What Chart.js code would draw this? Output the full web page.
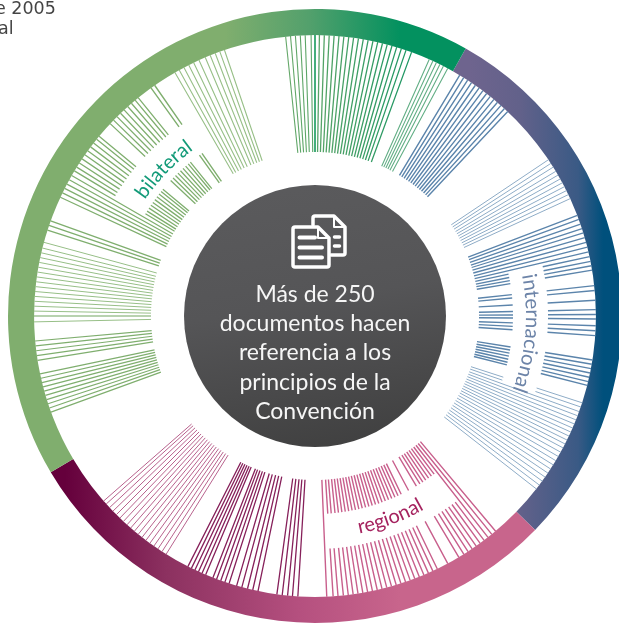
<!DOCTYPE html>
<html>
<head>
<meta charset="utf-8">
<title>Convención 2005</title>
<script src="https://cdn.jsdelivr.net/npm/chart.js@4/dist/chart.umd.min.js"></script>
<style>
  html, body { margin: 0; padding: 0; background: #fff; overflow: hidden; width: 619px; height: 624px; }
  canvas { position: absolute; left: -5px; top: -4px; }
  #overlay { position: absolute; left: 0; top: 0; }
  .corner { position: absolute; font: 17.5px "DejaVu Sans"; color: #444; white-space: nowrap; }
  #disc { position: absolute; left: 184px; top: 185px; width: 262px; height: 262px; border-radius: 50%;
    background: linear-gradient(170deg, #5b5b5d 0%, #555557 45%, #3e3e3e 100%); }
  #discText { position: absolute; left: 0; top: 94px; width: 262px; text-align: center; color: #f6f6f6;
    font: 400 23px/29.2px Lato; }
</style>
</head>
<body>
<canvas id="ring" width="640" height="640"></canvas>
<canvas id="spokes" width="640" height="640"></canvas>

<div class="corner" style="left:-5px;top:-2px">e 2005</div>
<div class="corner" style="left:-2px;top:18px">al</div>

<div id="disc">
  <div id="discText">Más de 250<br>documentos hacen<br>referencia a los<br>principios de la<br>Convención</div>
</div>

<svg id="overlay" width="619" height="624" viewBox="0 0 619 624">
  <defs>
    <path id="arcBil" d="M 109 316 A 206 206 0 0 1 315 110"/>
    <path id="arcInt" d="M 315 105 A 211 211 0 0 1 315 527"/>
    <path id="arcReg" d="M 93 316 A 222 222 0 0 0 537 316"/>
  </defs>
  <text font-family="Lato" font-size="20" fill="#129a78" text-anchor="middle">
    <textPath href="#arcBil" startOffset="49%">bilateral</textPath></text>
  <text font-family="Lato" font-size="20.5" fill="#6d84a8" text-anchor="middle">
    <textPath href="#arcInt" startOffset="52.6%">internacional</textPath></text>
  <text font-family="Lato" font-size="20" fill="#a5235f" text-anchor="middle">
    <textPath href="#arcReg" startOffset="61.4%">regional</textPath></text>
  <!-- document icon -->
  <g fill="none" stroke="#fff" stroke-width="3.5" stroke-linejoin="round" stroke-linecap="round">
    <path d="M 313 225 L 313 218 Q 313 216 315 216 L 334 216 L 345 227 L 345 253 Q 345 255 343 255 L 331 255"/>
    <path d="M 334 217 L 334 227 L 344 227" stroke-width="2"/>
    <path d="M 295 227 L 318 227 L 329 238 L 329 265 Q 329 267 327 267 L 295 267 Q 293 267 293 265 L 293 229 Q 293 227 295 227 Z"/>
    <path d="M 318 228 L 318 238 L 328 238" stroke-width="2"/>
    <path d="M 299.5 237.5 L 315 237.5 M 299.5 247.5 L 322 247.5 M 299.5 257.5 L 322 257.5" stroke-width="4"/>
    <path d="M 334.5 237 L 339.5 237 M 334.5 246 L 339.5 246" stroke-width="3.5"/>
  </g>
</svg>

<script>
// ring spans in degrees, clockwise from the internacional/bilateral boundary
const ringLabels = ['internacional', 'regional', 'bilateral'];
const ringSpans = [104.8, 105.2, 150];
const ringStart = 29.4;

// spoke angles in degrees, clockwise from the top
const bilThin1 = [268.8, 271, 272, 273, 274, 275, 276, 277, 278, 279, 280, 281, 282, 283, 284, 285.2];
const bilDark = [270];
const bilLow1 = [250, 250.9, 251.8, 252.7, 253.6, 254.5, 255.4, 256.3, 257.2, 258.1];
const bilLow2 = [260.9, 261.9, 262.9, 263.9, 264.9];
const bilTrio = [287.8, 288.8, 289.8];
const bilFull = [295, 296, 297, 298, 299, 300];
const bilBroken1 = [301.1, 302, 303, 304, 305, 306, 307, 308, 309, 309.8];
const bilBroken2 = [313.2, 314.2, 315.2, 316.2, 317.2, 318.2, 319.2, 320.2, 321];
const bilPair = [324.3, 325.2];
const bilThin2 = [330.1, 331.1, 332.2, 333.3, 334.4, 335.6, 337, 338.1, 339.2, 340.2, 341.2];
const topLeft = [354, 355, 356, 357, 358, 359.2];
const topCentre = [0];
const topRight = [0.9, 1.9, 2.9, 3.9, 4.9, 5.9, 6.9, 7.9, 8.9, 9.9, 10.9, 11.9, 12.9, 13.9, 14.9, 15.9, 16.9, 17.9, 18.9, 20.1];
const topThin = [24, 24.8, 25.6, 26.4, 27.2, 28.2];

const intA = [31, 31.95, 32.9, 33.85, 34.8, 35.75, 36.7, 37.65, 38.6, 39.55, 40.5, 41.45, 42.4, 43.3];
const intThinA = [56.2, 57.1, 58, 59, 59.9, 60.8, 61.7, 62.6, 63.5, 64.4, 65.3];
const intFull = [69, 69.9, 70.9, 71.9, 72.8, 73.8, 74.8, 75.8, 76.8];
const intBroken1 = [77.8, 78.8, 79.7, 80.6];
const intBroken2 = [83.8, 84.8, 86.8, 88.7, 89.7, 90.6, 92, 93, 94];
const intBroken3 = [99, 99.9, 100.8, 101.7, 102.6, 103.5, 104.3];
const intThinBroken = [108, 108.9];
const intThinB = [109.9, 110.8, 111.7, 112.6, 113.5, 114.4, 115.3, 116.2, 117.1, 118, 119, 120, 121, 122, 123, 124, 125, 126, 127, 128];

const regFull = [140, 141, 142, 177.6];
const regBroken1 = [143, 144, 145, 146, 147, 148, 149.2, 151.8];
const regBroken2 = [154.2, 155.2, 156.2, 157.2, 158.2, 159.2, 160.2, 161.2, 162.2, 163.2, 164.2, 165.2, 166.2, 167.2, 168.2, 169.2, 170.2, 171.2, 172.2, 173.2, 174.2, 175.3, 176.3];
const regDark = [183.5, 184.6, 185.6, 186.7, 187.8, 191.7, 192.8, 193.9, 195.1, 196.2, 197.8, 198.7, 199.6, 200.5, 201.3, 202.9, 203.7, 204.5, 205.3, 206.1, 206.9];
const regThin = [212, 213, 214, 215, 216, 217, 218, 219, 220, 221, 222, 223, 224, 225, 226, 227, 228, 228.8];

// radii of the spokes: full length, inner piece, outer piece
const rIn = 164, rOut = 281, gapIn = 198, gapOut = 233;

function polar(deg, r) {
  const a = deg * Math.PI / 180;
  return { x: r * Math.sin(a), y: r * Math.cos(a) };
}

function spokeData(angles, r0, r1) {
  return angles.flatMap(a => [polar(a, r0), polar(a, r1), { x: null, y: null }]);
}

// x is page x, the canvas sits 5px further left
function hGrad(ctx, stops) {
  const first = stops[0][0], last = stops[stops.length - 1][0];
  const g = ctx.createLinearGradient(first + 5, 0, last + 5, 0);
  stops.forEach(s => g.addColorStop((s[0] - first) / (last - first), s[1]));
  return g;
}

const ringCtx = document.getElementById('ring').getContext('2d');
new Chart(ringCtx, {
  type: 'doughnut',
  data: {
    labels: ringLabels,
    datasets: [{
      data: ringSpans,
      borderWidth: 0,
      backgroundColor: [
        hGrad(ringCtx, [[470, '#6e648e'], [520, '#62618a'], [578, '#3a5a85'], [603, '#00507c']]),
        hGrad(ringCtx, [[65, '#65003c'], [166, '#8c3160'], [300, '#b5507f'], [400, '#c8658c']]),
        hGrad(ringCtx, [[225, '#80ae6e'], [310, '#52a06c'], [400, '#03915f']])
      ]
    }]
  },
  options: {
    responsive: false,
    animation: false,
    rotation: ringStart,
    cutout: '91.5%',
    layout: { padding: 13 },
    plugins: { legend: { display: false }, tooltip: { enabled: false } }
  }
});

const spokeCtx = document.getElementById('spokes').getContext('2d');
const greenLine = hGrad(spokeCtx, [[225, '#7fae6e'], [310, '#5ba567'], [410, '#1d9663']]);
const greenThin = '#97bf87';
const blue = '#5b84ab', blueThin = '#8eacc7';
const pink = '#c85f8c', plum = '#86205a', pinkThin = '#b8628d';

function set(angles, r0, r1, color, width) {
  return { data: spokeData(angles, r0, r1), borderColor: color, borderWidth: width };
}

new Chart(spokeCtx, {
  type: 'scatter',
  data: {
    datasets: [
      set(bilThin1, rIn, rOut, greenThin, 1),
      set(bilDark, rIn, rOut, '#72a661', 1.2),
      set(bilLow1, rIn, rOut, greenLine, 1.2),
      set(bilLow2, rIn, rOut, greenLine, 1.2),
      set(bilTrio, rIn, rOut, greenLine, 1.4),
      set(bilFull, rIn, rOut, greenLine, 1.3),
      set(bilBroken1, rIn, gapIn, greenLine, 1.3),
      set(bilBroken1, gapOut, rOut, greenLine, 1.3),
      set(bilBroken2, rIn, gapIn, greenLine, 1.3),
      set(bilBroken2, gapOut, rOut, greenLine, 1.3),
      set(bilPair, rIn, gapIn, greenLine, 1.4),
      set(bilPair, gapOut, rOut, greenLine, 1.4),
      set(bilThin2, rIn, rOut, greenThin, 1.1),
      set(topLeft, rIn, rOut, greenLine, 1.1),
      set(topCentre, rIn, rOut, '#169a5a', 1.6),
      set(topRight, rIn, rOut, greenLine, 1.3),
      set(topThin, rIn, rOut, '#62ae85', 1.1),
      set(intA, rIn, rOut, blue, 1.4),
      set(intThinA, rIn, rOut, blueThin, 1),
      set(intFull, rIn, rOut, blue, 1.3),
      set(intBroken1, rIn, gapIn, blue, 1.4),
      set(intBroken1, gapOut, rOut, blue, 1.4),
      set(intBroken2, rIn, gapIn, blue, 1.4),
      set(intBroken2, gapOut, rOut, blue, 1.4),
      set(intBroken3, rIn, gapIn, blue, 1.4),
      set(intBroken3, gapOut, rOut, blue, 1.4),
      set(intThinBroken, rIn, gapIn, blueThin, 1),
      set(intThinBroken, gapOut, rOut, blueThin, 1),
      set(intThinB, rIn, rOut, blueThin, 1),
      set(regFull, rIn, rOut, pink, 1.4),
      set(regBroken1, rIn, gapIn, pink, 1.4),
      set(regBroken1, gapOut, rOut, pink, 1.4),
      set(regBroken2, rIn, gapIn, pink, 1.4),
      set(regBroken2, gapOut, rOut, pink, 1.4),
      set(regDark, rIn, rOut, plum, 1.3),
      set(regThin, rIn, rOut, pinkThin, 1)
    ]
  },
  options: {
    responsive: false,
    animation: false,
    showLine: true,
    pointRadius: 0,
    layout: { padding: 0 },
    scales: {
      x: { display: false, min: -320, max: 320 },
      y: { display: false, min: -320, max: 320 }
    },
    plugins: { legend: { display: false }, tooltip: { enabled: false } }
  }
});
</script>
</body>
</html>
